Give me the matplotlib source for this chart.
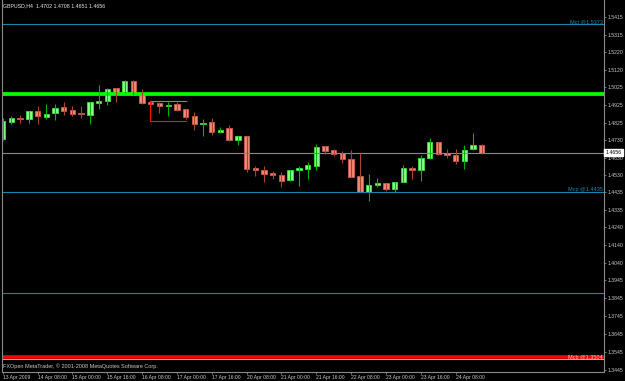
import numpy as np
import matplotlib
matplotlib.use("Agg")
import matplotlib.pyplot as plt
import matplotlib.transforms as mtransforms

# GBPUSD H4 candles (open, high, low, close)
opens = [1.4732, 1.4828, 1.4851, 1.4847, 1.4888, 1.4858, 1.4877, 1.4910, 1.4895, 1.4877,
         1.4867, 1.4934, 1.4944, 1.5016, 1.4994, 1.5059, 1.4984, 1.4940, 1.4934, 1.4918,
         1.4929, 1.4901, 1.4862, 1.4819, 1.4828, 1.4772, 1.4796, 1.4730, 1.4748, 1.4572,
         1.4560, 1.4544, 1.4535, 1.4507, 1.4562, 1.4566, 1.4585, 1.4693, 1.4672, 1.4657,
         1.4624, 1.4526, 1.4439, 1.4476, 1.4488, 1.4457, 1.4493, 1.4570, 1.4560, 1.4626,
         1.4715, 1.4654, 1.4645, 1.4611, 1.4676, 1.4702]
highs = [1.4851, 1.4863, 1.4866, 1.4890, 1.4918, 1.4929, 1.4929, 1.4940, 1.4918, 1.4918,
         1.4940, 1.5036, 1.5018, 1.5018, 1.5063, 1.5063, 1.5011, 1.4943, 1.4942, 1.4940,
         1.4940, 1.4901, 1.4884, 1.4843, 1.4851, 1.4802, 1.4810, 1.4748, 1.4748, 1.4583,
         1.4583, 1.4555, 1.4549, 1.4560, 1.4583, 1.4607, 1.4705, 1.4694, 1.4679, 1.4666,
         1.4672, 1.4657, 1.4539, 1.4516, 1.4488, 1.4493, 1.4588, 1.4583, 1.4645, 1.4739,
         1.4715, 1.4679, 1.4676, 1.4700, 1.4769, 1.4708]
lows = [1.4728, 1.4817, 1.4821, 1.4821, 1.4817, 1.4847, 1.4839, 1.4869, 1.4862, 1.4851,
        1.4817, 1.4899, 1.4921, 1.4942, 1.4990, 1.4977, 1.4929, 1.4929, 1.4880, 1.4862,
        1.4888, 1.4847, 1.4784, 1.4750, 1.4756, 1.4766, 1.4724, 1.4700, 1.4551, 1.4529,
        1.4493, 1.4509, 1.4467, 1.4498, 1.4471, 1.4509, 1.4560, 1.4649, 1.4639, 1.4598,
        1.4524, 1.4439, 1.4390, 1.4464, 1.4444, 1.4439, 1.4493, 1.4511, 1.4501, 1.4621,
        1.4643, 1.4630, 1.4594, 1.4568, 1.4672, 1.4651]
closes = [1.4836, 1.4849, 1.4845, 1.4888, 1.4860, 1.4875, 1.4906, 1.4888, 1.4875, 1.4871,
          1.4940, 1.4945, 1.5012, 1.4994, 1.5059, 1.4977, 1.4934, 1.4930, 1.4916, 1.4923,
          1.4897, 1.4858, 1.4815, 1.4824, 1.4772, 1.4782, 1.4730, 1.4748, 1.4566, 1.4560,
          1.4540, 1.4531, 1.4501, 1.4560, 1.4570, 1.4588, 1.4690, 1.4666, 1.4652, 1.4624,
          1.4524, 1.4439, 1.4476, 1.4487, 1.4455, 1.4493, 1.4570, 1.4559, 1.4630, 1.4717,
          1.4649, 1.4646, 1.4611, 1.4674, 1.4698, 1.4656]

time_ticks = [0, 4, 8, 12, 16, 20, 24, 28, 32, 36, 40, 44, 48, 52]
time_labels = ["13 Apr 2009", "14 Apr 08:00", "15 Apr 00:00", "15 Apr 16:00",
               "16 Apr 08:00", "17 Apr 00:00", "17 Apr 16:00", "20 Apr 08:00",
               "21 Apr 00:00", "21 Apr 16:00", "22 Apr 08:00", "23 Apr 00:00",
               "23 Apr 16:00", "24 Apr 08:00"]
price_ticks = [1.5415, 1.5315, 1.5220, 1.5120, 1.5025, 1.4925, 1.4825, 1.4730, 1.4630,
               1.4530, 1.4435, 1.4335, 1.4240, 1.4140, 1.4040, 1.3945, 1.3845, 1.3745,
               1.3645, 1.3545, 1.3445]

# horizontal levels
mct_level = 1.5373
green_level = 1.4986
bid_level = 1.4656
mcp_level = 1.4435
blue_level = 1.3874
red_level = 1.3517
mcb_level = 1.3504
# drawn box object (x in bars, prices)
box_x = [16.9, 21.0]
box_top = 1.4944
box_bottom = 1.4836

opens = np.array(opens); highs = np.array(highs)
lows = np.array(lows); closes = np.array(closes)
x = np.arange(len(opens))
up = closes >= opens

plt.rcParams['font.family'] = ['Liberation Sans', 'DejaVu Sans']
fig = plt.figure(figsize=(6.25, 3.81), dpi=100, facecolor='black')
ax = fig.add_axes([2 / 625, 1 - 371.5 / 381, 602 / 625, 371.5 / 381])
ax.set_facecolor('black')

blue = '#1a86b0'
grey = '#8a8a8a'
txt = '#c8c8c8'

ax.axhline(mct_level, color=blue, lw=0.8)
ax.axhline(green_level, color='#00ff00', lw=2.7)
ax.axhline(bid_level, color=grey, lw=0.8)
ax.axhline(mcp_level, color=blue, lw=0.8)
ax.axhline(blue_level, color=blue, lw=0.8)
ax.axhline(red_level, color='#ff0000', lw=2.6)
ax.axhline(mcb_level, color='#ff9090', lw=0.7)

# box object
ax.plot([box_x[0], box_x[1]], [box_top, box_top], color='#00e000', lw=0.8)
ax.plot([box_x[0], box_x[0], box_x[1]], [box_top, box_bottom, box_bottom],
        color='#ff1010', lw=0.8)

# candles
ax.vlines(x[up], lows[up], highs[up], color='#00b400', lw=0.8)
ax.vlines(x[~up], lows[~up], highs[~up], color='#a8442c', lw=0.8)
ax.bar(x[up], closes[up] - opens[up], bottom=opens[up], width=0.62,
       color='#8cf88c', edgecolor='#3ee03e', lw=0.6)
ax.bar(x[~up], closes[~up] - opens[~up], bottom=opens[~up], width=0.62,
       color='#f08878', edgecolor='#d05a50', lw=0.6)

ax.set_xlim(-0.08, 69.03)
ax.set_ylim(1.3436, 1.5509)

# spines / ticks
for side in ['left', 'right', 'bottom']:
    ax.spines[side].set_color(grey)
    ax.spines[side].set_linewidth(0.8)
ax.spines['top'].set_visible(False)
ax.yaxis.tick_right()
ax.set_yticks(price_ticks)
ax.set_yticklabels(["%.4f" % p for p in price_ticks])
ax.tick_params(axis='y', colors=grey, labelcolor=txt, length=1.5, width=0.6,
               labelsize=3.7, pad=0.8)
ax.set_xticks(time_ticks)
ax.set_xticklabels(time_labels)
ax.tick_params(axis='x', colors=grey, labelcolor=txt, length=1.5, width=0.6,
               labelsize=3.6, pad=0.8)
for lab in ax.get_xticklabels():
    lab.set_horizontalalignment('left')

# texts
trans = mtransforms.blended_transform_factory(ax.transAxes, ax.transData)
ax.text(0.998, mct_level, "Mct @%.4f" % mct_level, transform=trans, ha='right',
        va='bottom', color=blue, fontsize=4)
ax.text(0.998, mcp_level, "Mcp @%.4f" % mcp_level, transform=trans, ha='right',
        va='bottom', color=blue, fontsize=4)
ax.text(0.998, red_level, "Mcb @%.4f" % mcb_level, transform=trans, ha='right',
        va='center', color='#ffc0c0', fontsize=4)
ax.text(1.0025, bid_level, "%.4f" % bid_level, transform=trans, ha='left',
        va='center', color='black', fontsize=3.8,
        bbox=dict(boxstyle='square,pad=0.2', fc='white', ec='white'))
ax.text(0.002, 0.985, "GBPUSD,H4  %.4f %.4f %.4f %.4f" % (opens[-1], highs[-1], lows[-1], closes[-1]),
        transform=ax.transAxes, ha='left', va='center', color='#e8e8e8', fontsize=3.8)
ax.text(0.002, 0.013, "FXOpen MetaTrader, \u00a9 2001-2008 MetaQuotes Software Corp.",
        transform=ax.transAxes, ha='left', va='center', color=txt, fontsize=4)

fig.savefig("out.png", dpi=100, facecolor='black')
